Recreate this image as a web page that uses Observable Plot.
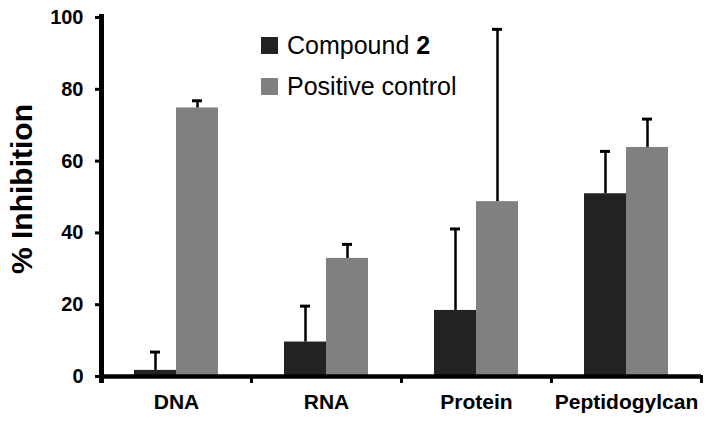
<!DOCTYPE html>
<html>
<head>
<meta charset="utf-8">
<script src="https://cdn.jsdelivr.net/npm/d3@7"></script>
<script src="https://cdn.jsdelivr.net/npm/@observablehq/plot@0.6"></script>
<style>
  body { margin: 0; background: #fff; }
  #wrap { position: relative; width: 714px; height: 424px; font-family: "Liberation Sans", Arial, sans-serif; }
  #legend { position: absolute; left: 261px; top: 25px; font-size: 25px; color: #000; }
  .row { display: flex; align-items: center; height: 41px; line-height: 41px; white-space: nowrap; }
  .sw { width: 17px; height: 17px; margin-right: 9px; }
</style>
</head>
<body>
<div id="wrap"></div>
<script>
const categories = ["DNA", "RNA", "Protein", "Peptidogylcan"];
const series = ["Compound 2", "Positive control"];
const seriesColors = ["#222222", "#808080"];
const compoundValues = [1.7, 9.6, 18.4, 50.9];
const compoundErrors = [5.1, 10.0, 22.7, 11.8];
const controlValues = [74.8, 32.9, 48.7, 63.8];
const controlErrors = [2.0, 3.9, 48.0, 7.9];
const yTicks = [0, 20, 40, 60, 80, 100];

const rows = [];
categories.forEach((c, i) => {
  rows.push({category: c, series: series[0], value: compoundValues[i], err: compoundErrors[i]});
  rows.push({category: c, series: series[1], value: controlValues[i], err: controlErrors[i]});
});

const firstFacet = () => categories[0];

const chart = Plot.plot({
  width: 714,
  height: 424,
  marginLeft: 100,
  marginRight: 12,
  marginTop: 17,
  marginBottom: 48,
  style: {fontFamily: "'Liberation Sans', Arial, sans-serif", background: "white", color: "black"},
  fx: {domain: categories, padding: 0, label: null},
  x: {domain: series, paddingInner: 0, paddingOuter: 0.75, axis: null},
  y: {domain: [0, 100], axis: null},
  color: {domain: series, range: seriesColors},
  marks: [
    Plot.barY(rows, {fx: "category", x: "series", y: "value", fill: "series"}),
    Plot.ruleX(rows, {fx: "category", x: "series", y1: "value", y2: d => d.value + d.err, stroke: "black", strokeWidth: 2.5}),
    Plot.tickY(rows, {fx: "category", x: "series", y: d => d.value + d.err, stroke: "black", strokeWidth: 3, insetLeft: 16, insetRight: 16}),
    Plot.ruleY([0], {stroke: "black", strokeWidth: 4.5}),
    Plot.frame({anchor: "left", facetAnchor: "left", stroke: "black", strokeWidth: 5, insetBottom: -4, insetTop: -1}),
    Plot.frame({anchor: "right", stroke: "black", strokeWidth: 3, insetTop: 359, insetBottom: -5}),
    Plot.axisY({ticks: yTicks, tickSize: 6, strokeWidth: 3, tickFormat: () => "", label: null}),
    Plot.text(yTicks, {fx: firstFacet, y: d => d, text: d => String(d), frameAnchor: "left", textAnchor: "end", dx: -18, fontSize: 20, fontWeight: "bold", fill: "black"}),
    Plot.axisFx({anchor: "bottom", tickSize: 0, tickPadding: 18, fontSize: 21, fontWeight: "bold", label: null}),
    Plot.text(["% Inhibition"], {fx: firstFacet, frameAnchor: "left", textAnchor: "middle", lineAnchor: "middle", rotate: -90, dx: -79, dy: -8, fontSize: 30, fontWeight: "bold", fill: "black"})
  ]
});

const wrap = document.getElementById("wrap");
wrap.appendChild(chart);
const legend = document.createElement("div");
legend.id = "legend";
legend.innerHTML = series.map((s, i) => {
  const label = i === 0 ? "Compound <b>2</b>" : s;
  return `<div class="row"><span class="sw" style="background:${seriesColors[i]}"></span><span>${label}</span></div>`;
}).join("");
wrap.appendChild(legend);
</script>
</body>
</html>
